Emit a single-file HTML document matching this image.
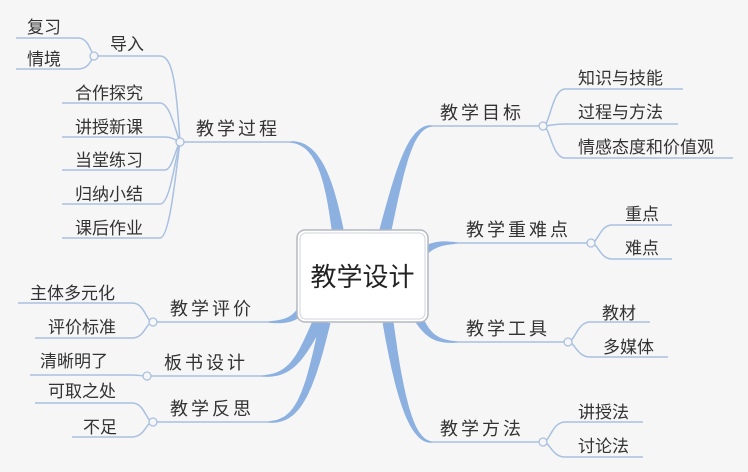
<!DOCTYPE html>
<html><head><meta charset="utf-8">
<style>
html,body{margin:0;padding:0;background:#f6f6f7;}
svg{display:block;}
text{font-family:"Liberation Sans","Noto Sans CJK SC",sans-serif;fill:#333;}
.m{font-size:18px;letter-spacing:3px;}
.s{font-size:17px;}
</style></head>
<body>
<svg id="s" width="748" height="472" viewBox="0 0 748 472" xmlns="http://www.w3.org/2000/svg">
<g id="tap" fill="#8cb0e0"></g>
<g fill="none" stroke="#a9c0df" stroke-width="1.5">
<path d="M180 142 H292"/>
<path d="M430 126 H543"/>
<path d="M455 243 H591"/>
<path d="M455 342 H568"/>
<path d="M430 442 H543"/>
<path d="M153 322 H270"/>
<path d="M147 376 H265"/>
<path d="M153 422 H270"/>
<path d="M94 56 H160 C172 56 176 80 180 142"/>
<path d="M16 38 H78 C88 38 90 50 94 56"/>
<path d="M16 69 H78 C88 69 90 62 94 56"/>
<path d="M62 103 H160 C170 103 175 130 180 142"/>
<path d="M62 137 H165 C172 137 175 140 180 142"/>
<path d="M62 170 H165 C172 170 175 150 180 142"/>
<path d="M62 204 H160 C170 204 175 160 180 142"/>
<path d="M62 238 H160 C170 238 176 170 180 142"/>
<path d="M543 126 C550 126 552 89 565 89 H683"/>
<path d="M543 126 C550 126 552 124 565 124 H678"/>
<path d="M543 126 C550 126 552 158 565 158 H733"/>
<path d="M591 243 C598 243 600 225 612 225 H672"/>
<path d="M591 243 C598 243 600 259 612 259 H672"/>
<path d="M568 342 C575 342 577 322 590 322 H650"/>
<path d="M568 342 C575 342 577 357 590 357 H668"/>
<path d="M543 442 C550 442 552 422 565 422 H643"/>
<path d="M543 442 C550 442 552 457 565 457 H643"/>
<path d="M153 322 C146 322 145 303 132 303 H18"/>
<path d="M153 322 C146 322 145 338 132 338 H35"/>
<path d="M147 376 C140 376 140 375 130 375 H30"/>
<path d="M153 422 C146 422 145 403 132 403 H35"/>
<path d="M153 422 C146 422 145 437 132 437 H72"/>
</g>
<g fill="#f6f6f7" stroke="#a9c0df" stroke-width="1.3">
<circle cx="94" cy="56" r="4"/><circle cx="180" cy="142" r="4"/>
<circle cx="543" cy="126" r="4"/><circle cx="591" cy="243" r="4"/>
<circle cx="568" cy="342" r="4"/><circle cx="543" cy="442" r="4"/>
<circle cx="153" cy="322" r="4"/><circle cx="147" cy="376" r="4"/>
<circle cx="153" cy="422" r="4"/>
</g>
<rect x="297" y="230" width="131" height="92" rx="8" fill="#fff" stroke="#b4b8c0" stroke-width="1.5"/>
<rect x="300" y="233" width="125" height="86" rx="6" fill="#fff" stroke="#d0d3d8" stroke-width="1"/>
<text x="362.5" y="286" text-anchor="middle" style="font-size:26px;fill:#222">教学设计</text>
<g class="m">
<text x="196" y="135">教学过程</text>
<text x="440" y="119">教学目标</text>
<text x="466" y="236">教学重难点</text>
<text x="466" y="335">教学工具</text>
<text x="440" y="435">教学方法</text>
<text x="170" y="315">教学评价</text>
<text x="164" y="369">板书设计</text>
<text x="170" y="415">教学反思</text>
</g>
<g class="s">
<text x="110" y="50">导入</text>
<text x="27" y="33">复习</text>
<text x="27" y="65">情境</text>
<text x="75" y="99">合作探究</text>
<text x="75" y="133">讲授新课</text>
<text x="75" y="166">当堂练习</text>
<text x="75" y="200">归纳小结</text>
<text x="75" y="234">课后作业</text>
<text x="578" y="84">知识与技能</text>
<text x="578" y="118">过程与方法</text>
<text x="578" y="153">情感态度和价值观</text>
<text x="625" y="220">重点</text>
<text x="625" y="254">难点</text>
<text x="602" y="319">教材</text>
<text x="603" y="353">多媒体</text>
<text x="578" y="418">讲授法</text>
<text x="578" y="452">讨论法</text>
<text x="30" y="299">主体多元化</text>
<text x="48" y="333">评价标准</text>
<text x="40" y="367">清晰明了</text>
<text x="48" y="397">可取之处</text>
<text x="83" y="433">不足</text>
</g>
</svg>
<script>
(function(){
var g=document.getElementById('tap');
var br=[
 [[338,232],[330,185],[320,142],[290,142],12],
 [[385,232],[400,170],[410,126],[432,126],12],
 [[426,250],[436,243],[445,243],[458,243],8],
 [[418,318],[428,335],[435,342],[458,342],9],
 [[388,322],[400,400],[412,442],[432,442],11],
 [[300,312],[292,320],[285,322],[268,322],8],
 [[318,322],[300,360],[290,376],[262,376],11],
 [[325,322],[308,400],[296,422],[268,422],11]
];
function bz(p,t){var u=1-t;return [u*u*u*p[0][0]+3*u*u*t*p[1][0]+3*u*t*t*p[2][0]+t*t*t*p[3][0],u*u*u*p[0][1]+3*u*u*t*p[1][1]+3*u*t*t*p[2][1]+t*t*t*p[3][1]];}
br.forEach(function(b){
 var N=40,L=[],R=[];
 for(var i=0;i<=N;i++){var t=i/N,a=bz(b,Math.max(0,t-0.01)),c=bz(b,Math.min(1,t+0.01)),p=bz(b,t);
  var dx=c[0]-a[0],dy=c[1]-a[1],l=Math.hypot(dx,dy)||1,nx=-dy/l,ny=dx/l;
  var w=(b[4]*(1-t)+1.5*t)/2;
  L.push((p[0]+nx*w).toFixed(1)+' '+(p[1]+ny*w).toFixed(1));
  R.unshift((p[0]-nx*w).toFixed(1)+' '+(p[1]-ny*w).toFixed(1));}
 var e=document.createElementNS('http://www.w3.org/2000/svg','path');
 e.setAttribute('d','M'+L.join(' L')+' L'+R.join(' L')+'Z');g.appendChild(e);
});
})();
</script>
</body></html>
